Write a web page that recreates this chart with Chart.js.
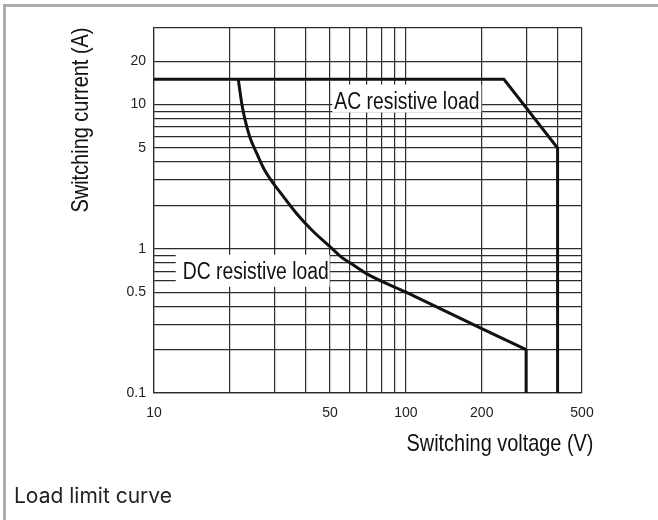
<!doctype html>
<html lang="en">
<head>
  <meta charset="UTF-8">
  <title>Load limit curve</title>
  <script src="https://cdn.jsdelivr.net/npm/chart.js@4.4.1/dist/chart.umd.min.js"></script>
  <style>
    html, body { margin: 0; padding: 0; background: #fff; overflow: hidden; }
    #wrap { position: relative; width: 658px; height: 520px; overflow: hidden; }
    #frame { position: absolute; left: 3px; top: 4px; width: 660px; height: 520px;
             border-top: 3px solid #a9abb1; border-left: 3px solid #a9abb1; }
    #canvas { position: absolute; left: 0; top: 0; }
    #caption { position: absolute; left: 14px; top: 484px; font: 21px Inter, "Noto Sans", sans-serif;
               color: #222; line-height: 24px; }
  </style>
</head>
<body>
  <div id="wrap">
    <div id="frame"></div>
    <canvas id="canvas" width="658" height="520"></canvas>
    <div id="caption">Load limit curve</div>
  </div>
  <script>
    // AC resistive load limit
    var acVoltage = [10, 245, 400, 400];
    var acCurrent = [15, 15, 5, 0.1];
    // DC resistive load limit (curved part, then the drop at 300 V)
    var dcVoltage = [21.6, 22.3, 23.0, 24.0, 25.6, 27.5, 33.1, 36.8, 42.3, 50.7, 56.2, 60, 70, 100, 200, 300];
    var dcCurrent = [15, 10.2, 7.8, 5.97, 4.58, 3.51, 2.23, 1.76, 1.35, 1.01, 0.86, 0.8, 0.67, 0.5, 0.28, 0.2];
    var dcDropVoltage = [300, 300];
    var dcDropCurrent = [0.2, 0.1];

    var xGrid = [10, 20, 30, 40, 50, 60, 70, 80, 90, 100, 200, 300, 400, 500];
    var yGrid = [0.1, 0.2, 0.3, 0.4, 0.5, 0.6, 0.7, 0.8, 0.9, 1, 2, 3, 4, 5, 6, 7, 8, 9, 10, 20, 34];
    var xTickLabels = [10, 50, 100, 200, 500];
    var yTickLabels = [0.1, 0.5, 1, 5, 10, 20];

    // in-plot labels, anchored at the left end of the text baseline (data units)
    var notes = [
      { text: 'AC resistive load', v: 52, i: 9.4, width: 145, pad: [2, 2, 24, 4] },
      { text: 'DC resistive load', v: 13, i: 0.62, width: 146, pad: [7, 1, 24, 8] }
    ];

    var titleFont = '"Liberation Sans", Arial, sans-serif';
    var gridColor = '#2b2b2b';

    const toPoints = (xs, ys) => xs.map((x, k) => ({ x: x, y: ys[k] }));

    // the original uses a narrow face; squeeze a regular one to the same width
    const narrowText = (ctx, text, x, y, width, align) => {
      const w = ctx.measureText(text).width;
      const k = width / w;
      ctx.save();
      ctx.translate(x, y);
      ctx.scale(k, 1);
      ctx.textAlign = align;
      ctx.fillText(text, 0, 0);
      ctx.restore();
    };

    const textPlugin = {
      id: 'texts',
      beforeDatasetsDraw(chart) {
        const ctx = chart.ctx, xs = chart.scales.x, ys = chart.scales.y;
        ctx.save();
        ctx.font = '23px ' + titleFont;
        ctx.textBaseline = 'alphabetic';
        notes.forEach(n => {
          const px = xs.getPixelForValue(n.v), py = ys.getPixelForValue(n.i);
          ctx.fillStyle = '#fff';
          ctx.fillRect(px - n.pad[0], py - n.pad[2], n.width + n.pad[0] + n.pad[1], n.pad[2] + n.pad[3]);
          ctx.fillStyle = '#111';
          narrowText(ctx, n.text, px, py, n.width, 'left');
        });
        ctx.restore();
      },
      afterDraw(chart) {
        const ctx = chart.ctx;
        ctx.save();
        ctx.fillStyle = '#111';
        ctx.font = '24px ' + titleFont;
        ctx.textBaseline = 'alphabetic';
        narrowText(ctx, 'Switching voltage (V)', 500, 451, 187, 'center');
        ctx.translate(88, 120);
        ctx.rotate(-Math.PI / 2);
        narrowText(ctx, 'Switching current (A)', 0, 0, 185, 'center');
        ctx.restore();
      }
    };

    const tickFont = { family: '"Liberation Sans", Arial, sans-serif', size: 14 };

    new Chart(document.getElementById('canvas'), {
      type: 'line',
      data: {
        datasets: [
          { data: toPoints(acVoltage, acCurrent), borderColor: '#111', borderWidth: 3, pointRadius: 0, tension: 0, fill: false },
          { data: toPoints(dcVoltage, dcCurrent), borderColor: '#111', borderWidth: 3, pointRadius: 0, cubicInterpolationMode: 'monotone', fill: false },
          { data: toPoints(dcDropVoltage, dcDropCurrent), borderColor: '#111', borderWidth: 3, pointRadius: 0, tension: 0, fill: false }
        ]
      },
      options: {
        responsive: false,
        animation: false,
        layout: { padding: { left: 0, top: 28, right: 76, bottom: 0 } },
        plugins: { legend: { display: false }, tooltip: { enabled: false } },
        scales: {
          x: {
            type: 'logarithmic', min: 10, max: 500,
            afterBuildTicks: s => { s.ticks = xGrid.map(v => ({ value: v })); },
            afterFit: s => { s.height = 127; },
            grid: { color: gridColor, lineWidth: 1.2, drawTicks: false },
            border: { color: gridColor, width: 1.2 },
            ticks: {
              autoSkip: false, maxRotation: 0, padding: 12, color: '#222', font: tickFont,
              callback: v => xTickLabels.includes(v) ? String(v) : ''
            }
          },
          y: {
            type: 'logarithmic', min: 0.1, max: 34,
            afterBuildTicks: s => { s.ticks = yGrid.map(v => ({ value: v })); },
            afterFit: s => { s.width = 154; },
            grid: { color: gridColor, lineWidth: 1.2, drawTicks: false },
            border: { color: gridColor, width: 1.2 },
            ticks: {
              autoSkip: false, padding: 8, color: '#222', font: tickFont,
              callback: v => yTickLabels.includes(v) ? String(v) : ''
            }
          }
        }
      },
      plugins: [textPlugin]
    });
  </script>
</body>
</html>
